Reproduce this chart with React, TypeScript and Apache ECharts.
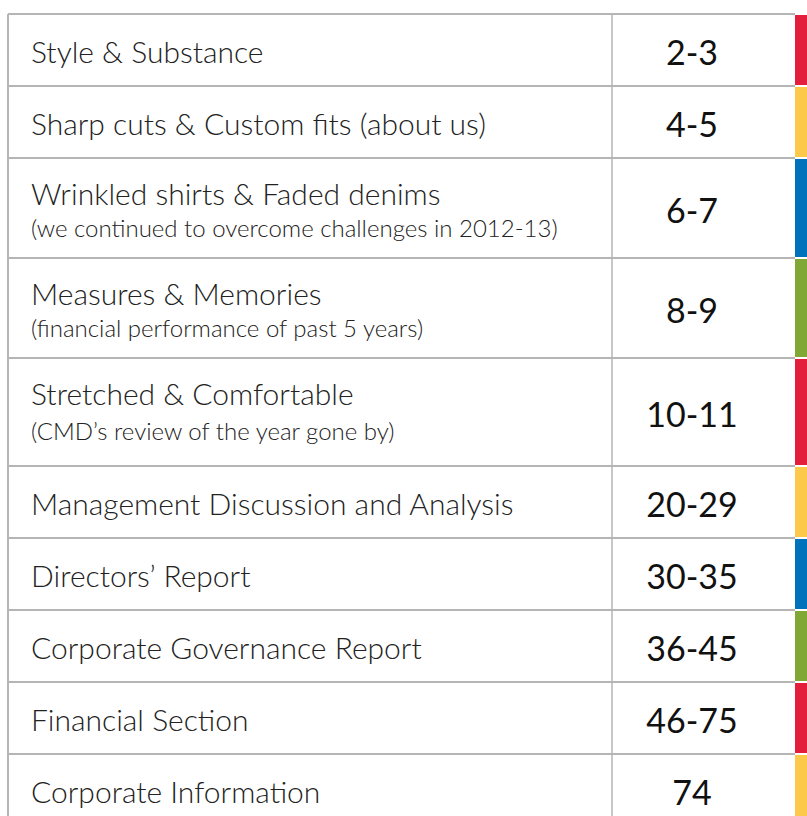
import React, { useEffect, useRef } from "react";
import * as echarts from "echarts";

const titles = [
  "Style & Substance",
  "Sharp cuts & Custom fits (about us)",
  "Wrinkled shirts & Faded denims",
  "Measures & Memories",
  "Stretched & Comfortable",
  "Management Discussion and Analysis",
  "Directors’ Report",
  "Corporate Governance Report",
  "Financial Section",
  "Corporate Information",
];
const subtitles = [
  "",
  "",
  "(we continued to overcome challenges in 2012-13)",
  "(financial performance of past 5 years)",
  "(CMD’s review of the year gone by)",
  "",
  "",
  "",
  "",
  "",
];
const pages = ["2-3", "4-5", "6-7", "8-9", "10-11", "20-29", "30-35", "36-45", "46-75", "74"];
const tabColors = ["#E31E3C", "#FDC94B", "#0072BC", "#7FA836", "#E31E3C", "#FDC94B", "#0072BC", "#7FA836", "#E31E3C", "#FDC94B"];

// layout
const ROW_HEIGHTS = [72, 72, 100, 100, 108, 72, 72, 72, 72, 72];
const TOP = 14;
const LEFT = 8;
const DIVIDER = 612;
const PAGE_CENTER = 692;
const LINE_END = 795;
const BAR_X = 795;
const BAR_W = 12;
const LINE_COLOR = "#b5b5b5";
const FONT = "Lato";

export default function App() {
  const ref = useRef<HTMLDivElement>(null);
  useEffect(() => {
    const chart = echarts.init(ref.current!, null, { renderer: "svg" });
    const els: any[] = [];
    let y = TOP;
    const borders: number[] = [y];
    titles.forEach((t, i) => {
      const h = ROW_HEIGHTS[i];
      const sub = subtitles[i];
      els.push({
        type: "rect",
        shape: { x: BAR_X, y: y + 1, width: BAR_W, height: h - 2 },
        style: { fill: tabColors[i] },
        z: 1,
      });
      if (sub) {
        els.push({
          type: "text",
          x: 31,
          y: y + 35,
          style: { text: t, font: `300 30px ${FONT}`, fill: "#222222", verticalAlign: "middle", align: "left" },
          z: 3,
        });
        els.push({
          type: "text",
          x: 31,
          y: y + (h > 100 ? 72 : 69),
          style: { text: sub, font: `300 24px ${FONT}`, fill: "#222222", verticalAlign: "middle", align: "left" },
          z: 3,
        });
      } else {
        els.push({
          type: "text",
          x: 31,
          y: y + h / 2 + 1,
          style: { text: t, font: `300 30px ${FONT}`, fill: "#222222", verticalAlign: "middle", align: "left" },
          z: 3,
        });
      }
      els.push({
        type: "text",
        x: PAGE_CENTER,
        y: y + h / 2 + 1,
        style: { text: pages[i], font: `400 34px ${FONT}`, fill: "#111111", verticalAlign: "middle", align: "center" },
        z: 3,
      });
      y += h;
      borders.push(y);
    });
    borders.forEach((b) => {
      els.push({
        type: "line",
        shape: { x1: LEFT, y1: b, x2: LINE_END, y2: b },
        style: { stroke: LINE_COLOR, lineWidth: 2 },
        z: 2,
      });
    });
    els.push({
      type: "line",
      shape: { x1: LEFT, y1: TOP, x2: LEFT, y2: 816 },
      style: { stroke: LINE_COLOR, lineWidth: 2 },
      z: 2,
    });
    els.push({
      type: "line",
      shape: { x1: DIVIDER, y1: TOP, x2: DIVIDER, y2: 816 },
      style: { stroke: LINE_COLOR, lineWidth: 1.5 },
      z: 2,
    });
    chart.setOption({ animation: false, graphic: { elements: els } });
    return () => chart.dispose();
  }, []);
  return (
    <div
      ref={ref}
      style={{ position: "fixed", left: 0, top: 0, width: 807, height: 816, background: "#fff" }}
    />
  );
}
